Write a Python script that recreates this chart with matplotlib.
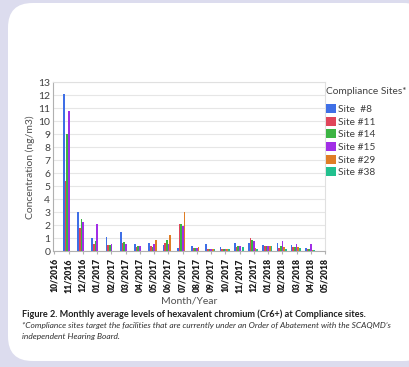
import matplotlib
matplotlib.use("Agg")
import matplotlib.pyplot as plt
import numpy as np
from matplotlib.patches import FancyBboxPatch, Patch

months = ["10/2016", "11/2016", "12/2016", "01/2017", "02/2017", "03/2017", "04/2017",
          "05/2017", "06/2017", "07/2017", "08/2017", "09/2017", "10/2017", "11/2017",
          "12/2017", "01/2018", "02/2018", "03/2018", "04/2018", "05/2018"]
sites = ["Site  #8", "Site #11", "Site #14", "Site #15", "Site #29", "Site #38"]
site8 = [0, 12.1, 3.0, 1.0, 1.12, 1.46, 0.59, 0.66, 0.48, 0.23, 0.43, 0.56, 0.33, 0.64, 0.67, 0.46, 0.62, 0.46, 0.28, 0]
site11 = [0, 5.4, 1.8, 0.6, 0.48, 0.66, 0.36, 0.41, 0.66, 2.08, 0.23, 0.2, 0.2, 0.3, 1.05, 0.44, 0.28, 0.3, 0.2, 0]
site14 = [0, 9.0, 2.46, 0.82, 0.48, 0.71, 0.41, 0.31, 0.87, 2.08, 0.23, 0.2, 0.2, 0.41, 0.85, 0.41, 0.38, 0.36, 0.18, 0]
site15 = [0, 10.8, 2.28, 2.1, 0.53, 0.53, 0.41, 0.53, 0.53, 1.95, 0.28, 0.2, 0.2, 0.41, 0.8, 0.44, 0.82, 0.56, 0.56, 0]
site29 = [0, 0, 0, 0, 0, 0, 0, 0.85, 1.25, 3.0, 0.36, 0.2, 0.2, 0.0, 0.23, 0.41, 0.3, 0.36, 0.1, 0]
site38 = [0, 0, 0, 0, 0, 0, 0, 0, 0, 0, 0, 0.2, 0.2, 0.36, 0.2, 0.38, 0.2, 0.23, 0.1, 0]
series = [site8, site11, site14, site15, site29, site38]
colors = ["#3f6fe6", "#e0455a", "#3cb443", "#a12ee6", "#e07d25", "#22c08e"]
yticks = list(range(0, 14))

plt.rcParams['font.family'] = ['Lato', 'DejaVu Sans']

fig = plt.figure(figsize=(4.09, 3.67), dpi=100)
fig.patch.set_facecolor("#dcdcee")
panel = FancyBboxPatch((8 / 409, 6 / 367), 420 / 409, 358 / 367,
                       boxstyle="round,pad=0,rounding_size=0.06",
                       transform=fig.transFigure, facecolor="white", edgecolor="none",
                       mutation_aspect=409 / 367, zorder=-5)
fig.patches.append(panel)

ax = fig.add_axes([53 / 409, 1 - 251.3 / 367, 272 / 409, 169 / 367])
ax.set_zorder(2)
ax.set_facecolor("white")
x = np.arange(len(months))
bw = 0.117
n = len(series)
for i, (vals, c, lab) in enumerate(zip(series, colors, sites)):
    ax.bar(x + (i - (n - 1) / 2) * bw - 0.05, vals, width=bw, color=c, label=lab, zorder=3, linewidth=0)

ax.set_xlim(-0.1, 19.0)
ax.set_ylim(0, 13)
ax.set_yticks(yticks)
ax.set_yticklabels([str(v) for v in yticks], fontsize=7.5, color="#404040")
ax.set_xticks(x)
ax.set_xticklabels(months, rotation=90, fontsize=6.2, fontweight="heavy", color="#1a1a1a")
ax.grid(axis="y", color="#e6e6e6", linewidth=0.8, zorder=0)
for s in ["top", "right"]:
    ax.spines[s].set_color("#e0e0e0")
for s in ["left", "bottom"]:
    ax.spines[s].set_color("#b0b0b0")
ax.tick_params(axis="y", length=0, pad=2)
ax.tick_params(axis="x", length=2, color="#b0b0b0", pad=3)
ax.set_ylabel("Concentration (ng/m3)", fontsize=7.5, color="#505050", labelpad=2)
ax.set_xlabel("Month/Year", fontsize=7.5, color="#505050", labelpad=3)

handles = [Patch(facecolor=c, edgecolor="none") for c in colors]
leg = fig.legend(handles, sites, loc="upper left", bbox_to_anchor=(326 / 409, 1 - 87 / 367),
                 frameon=False, fontsize=7.3, title="Compliance Sites*", title_fontsize=7.3,
                 handlelength=1.0, handleheight=1.0, handletextpad=0.2, labelspacing=0.25,
                 borderaxespad=0, borderpad=0)
leg._legend_box.align = "left"
leg._legend_box.sep = 6
for t in leg.get_texts():
    t.set_color("#404040")
leg.get_title().set_color("#404040")

fig.text(22 / 409, 1 - 314 / 367, "Figure 2. Monthly average levels of hexavalent chromium (Cr6+) at Compliance sites.",
         fontsize=6.6, fontweight="bold", color="#202020", va="center")
fig.text(22 / 409, 1 - 325.5 / 367, "*Compliance sites target the facilities that are currently under an Order of Abatement with the SCAQMD\u2019s",
         fontsize=6.0, style="italic", color="#303030", va="center")
fig.text(22 / 409, 1 - 337 / 367, "independent Hearing Board.",
         fontsize=6.0, style="italic", color="#303030", va="center")

fig.savefig("out.png", dpi=100, facecolor=fig.get_facecolor())
